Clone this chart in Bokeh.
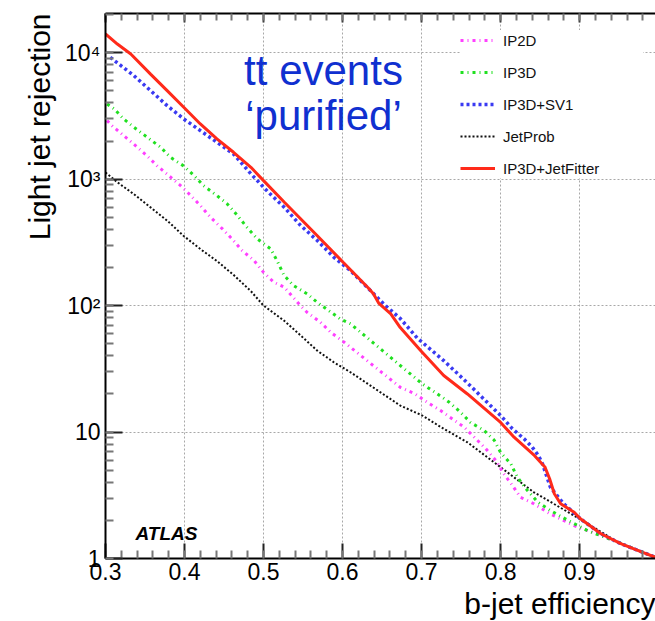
from math import pi
from bokeh.plotting import figure
from bokeh.models import (Label, Legend, LegendItem, LinearAxis, SingleIntervalTicker, Title,
                          CustomJSTickFormatter, LogTicker, PrintfTickFormatter, Range1d)
from bokeh.embed import file_html
from bokeh.resources import INLINE

# ---------------- data ----------------
eff_ip2d = [0.302, 0.308, 0.323, 0.338, 0.351, 0.365, 0.380, 0.395, 0.408, 0.420, 0.433, 0.448,
            0.460, 0.473, 0.488, 0.500, 0.513, 0.526, 0.543, 0.555, 0.572, 0.585, 0.602, 0.610,
            0.673, 0.692, 0.707, 0.724, 0.739, 0.754, 0.769, 0.781, 0.794, 0.804, 0.815, 0.825,
            0.842, 0.863, 0.893, 0.927, 0.948, 0.996]
rej_ip2d = [2900, 2650, 2210, 1840, 1560, 1280, 1066, 889, 741, 618, 499, 404,
            337, 272, 227, 183, 153, 140, 106, 88.5, 73.8, 61.5, 51.3, 46.8,
            22.6, 20.0, 17.2, 14.8, 12.7, 10.9, 8.8, 7.4, 5.96, 4.68, 3.78, 3.05,
            2.71, 2.25, 1.82, 1.52, 1.35, 1.02]

eff_ip3d = [0.302, 0.311, 0.323, 0.336, 0.353, 0.370, 0.382, 0.399, 0.412, 0.424, 0.441, 0.454,
            0.467, 0.479, 0.492, 0.509, 0.517, 0.526, 0.538, 0.555, 0.568, 0.597, 0.610, 0.673,
            0.701, 0.720, 0.735, 0.749, 0.762, 0.779, 0.792, 0.800, 0.813, 0.821, 0.834, 0.847,
            0.863, 0.878, 0.910, 0.948, 0.996]
rej_ip3d = [3930, 3590, 2990, 2570, 2140, 1780, 1490, 1270, 1066, 889, 741, 637,
            515, 416, 337, 281, 227, 173, 144, 124, 106, 78.5, 71.8, 33.6,
            24.0, 20.0, 17.2, 14.4, 11.9, 10.3, 8.6, 6.9, 5.6, 4.4, 3.45, 2.79,
            2.4, 2.12, 1.66, 1.35, 1.02]

eff_sv1 = [0.306, 0.336, 0.357, 0.378, 0.399, 0.420, 0.441, 0.462, 0.484, 0.505, 0.526, 0.547,
           0.568, 0.589, 0.610, 0.631, 0.652, 0.673, 0.695, 0.728, 0.755, 0.800, 0.815, 0.830,
           0.840, 0.848, 0.853, 0.863, 0.880, 0.901, 0.927, 0.952, 0.975, 0.996]
rej_sv1 = [9180, 6580, 5010, 3810, 2990, 2420, 1955, 1580, 1100, 800, 600, 429,
           327, 241, 189, 140, 103, 79, 55, 36.7, 25.5, 13.5, 10.6, 8.8,
           7.6, 6.5, 5.6, 3.66, 2.7, 2.06, 1.57, 1.31, 1.15, 1.02]

eff_jetprob = [0.300, 0.315, 0.336, 0.357, 0.378, 0.399, 0.420, 0.441, 0.462, 0.484, 0.500,
               0.526, 0.547, 0.568, 0.589, 0.610, 0.673, 0.701, 0.728, 0.758, 0.800, 0.842,
               0.900, 0.948, 0.996]
rej_jetprob = [1130, 944, 760, 598, 470, 355, 280, 225, 175, 130, 100,
               76, 58, 44, 35.6, 29.7, 16.2, 13.5, 10.6, 8.3, 5.27, 3.34,
               2.06, 1.35, 1.02]

eff_jf = [0.300, 0.315, 0.332, 0.357, 0.378, 0.399, 0.420, 0.441, 0.462, 0.484, 0.500, 0.526,
          0.568, 0.601, 0.632, 0.639, 0.646, 0.661, 0.673, 0.699, 0.728, 0.758, 0.800, 0.817,
          0.843, 0.856, 0.862, 0.868, 0.876, 0.893, 0.901, 0.927, 0.952, 0.975, 0.996]
rej_jf = [14060, 11700, 9770, 6770, 5010, 3700, 2730, 2080, 1630, 1240, 973, 660,
          357, 219, 139, 124, 104, 86, 67, 44, 28, 20, 11.9, 9.1,
          6.5, 5.3, 4.27, 3.25, 2.71, 2.32, 2.06, 1.57, 1.31, 1.15, 1.02]

series_names = ["IP2D", "IP3D", "IP3D+SV1", "JetProb", "IP3D+JetFitter"]
y_tick_values = [1, 10, 100, 1000, 10000]
y_tick_labels = ["1", "10", "10\u00b2", "10\u00b3", "10\u2074"]

x_title = "b-jet efficiency"
y_title = "Light jet rejection"
note_line1 = "tt events"
note_line2 = "\u2018purified\u2019"
atlas_text = "ATLAS"

# ---------------- figure ----------------
FONT = "Liberation Sans"
p = figure(frame_width=550, frame_height=545, output_backend="svg", toolbar_location=None,
           y_axis_type="log", x_range=Range1d(0.3, 0.996), y_range=Range1d(1, 20400),
           min_border_left=105, min_border_right=0, min_border_top=13, min_border_bottom=0,
           background_fill_color="white", border_fill_color="white")
p.outline_line_color = None

# grids
for g in (p.xgrid, p.ygrid):
    g.grid_line_color = "#a8a8a8"
    g.grid_line_dash = "2 2"
    g.grid_line_width = 1
p.ygrid.minor_grid_line_color = None

# x axis (bottom)
xa = p.xaxis[0]
xa.ticker = SingleIntervalTicker(interval=0.1, num_minor_ticks=5)
xa.formatter = PrintfTickFormatter(format="%.1f")
xa.axis_line_width = 2
xa.axis_line_color = "black"
xa.major_tick_in = 15
xa.major_tick_out = 0
xa.minor_tick_in = 8
xa.minor_tick_out = 0
xa.major_tick_line_width = 2
xa.major_tick_line_color = "#222222"
xa.minor_tick_line_width = 2
xa.minor_tick_line_color = "#777777"
xa.major_label_text_font = FONT
xa.major_label_text_font_size = "23px"
xa.major_label_text_color = "black"
xa.major_label_standoff = 4

# y axis (left)
ya = p.yaxis[0]
ya.ticker = LogTicker(num_minor_ticks=10)
ya.formatter = CustomJSTickFormatter(
    args=dict(vals=y_tick_values, labs=y_tick_labels),
    code="const i = vals.indexOf(Math.round(tick)); return i >= 0 ? labs[i] : '';")
ya.axis_line_width = 2
ya.axis_line_color = "black"
ya.major_tick_in = 17
ya.major_tick_out = 0
ya.minor_tick_in = 8
ya.minor_tick_out = 0
ya.major_tick_line_width = 2
ya.major_tick_line_color = "#222222"
ya.minor_tick_line_width = 2
ya.minor_tick_line_color = "#777777"
ya.major_label_text_font = FONT
ya.major_label_text_font_size = "23px"
ya.major_label_text_color = "black"
ya.major_label_standoff = 5

# top axis: ticks only
ta = LinearAxis(ticker=SingleIntervalTicker(interval=0.1, num_minor_ticks=5),
                formatter=CustomJSTickFormatter(code="return '';"))
ta.axis_line_width = 2
ta.axis_line_color = "black"
ta.major_tick_in = 9
ta.major_tick_out = 0
ta.minor_tick_in = 7
ta.minor_tick_out = 0
ta.major_tick_line_width = 2
ta.major_tick_line_color = "#444444"
ta.minor_tick_line_width = 2
ta.minor_tick_line_color = "#777777"
ta.major_label_text_font_size = "0px"
ta.major_label_standoff = 0
p.add_layout(ta, "above")

# axis titles (ROOT style: aligned to the end of the axis)
p.add_layout(Title(text=x_title, align="right", text_font=FONT, text_font_size="30px",
                   text_font_style="normal", text_color="black", standoff=4), "below")
p.add_layout(Title(text=y_title, align="right", text_font=FONT, text_font_size="30px",
                   text_font_style="normal", text_color="black", standoff=14), "left")

# curves
r_jp = p.line(eff_jetprob, rej_jetprob, line_color="#111111", line_width=2, line_dash="2 2")
r_2d = p.line(eff_ip2d, rej_ip2d, line_color="#ff40ff", line_width=3, line_dash="3 4 1 4")
r_3d = p.line(eff_ip3d, rej_ip3d, line_color="#20e020", line_width=3, line_dash="3 4 1 4")
r_sv = p.line(eff_sv1, rej_sv1, line_color="#3a3af2", line_width=3.5, line_dash="3 3")
r_jf = p.line(eff_jf, rej_jf, line_color="#ff2a1a", line_width=3)

legend = Legend(items=[LegendItem(label=series_names[0], renderers=[r_2d]),
                       LegendItem(label=series_names[1], renderers=[r_3d]),
                       LegendItem(label=series_names[2], renderers=[r_sv]),
                       LegendItem(label=series_names[3], renderers=[r_jp]),
                       LegendItem(label=series_names[4], renderers=[r_jf])],
                location=(355, 380))
legend.border_line_color = None
legend.background_fill_color = "white"
legend.background_fill_alpha = 1.0
legend.label_text_font = FONT
legend.label_text_font_size = "15px"
legend.label_text_color = "#111111"
legend.glyph_width = 35
legend.glyph_height = 20
legend.label_height = 20
legend.label_width = 140
legend.label_standoff = 8
legend.spacing = 12
legend.padding = 7
legend.margin = 0
p.add_layout(legend, "center")

# texts inside the frame
p.add_layout(Label(x=218, y=488, x_units="screen", y_units="screen", text=note_line1,
                   text_align="center", text_baseline="alphabetic",
                   text_font=FONT, text_font_size="42px", text_color="#1030d0"))
p.add_layout(Label(x=218, y=443, x_units="screen", y_units="screen", text=note_line2,
                   text_align="center", text_baseline="alphabetic",
                   text_font=FONT, text_font_size="42px", text_color="#1030d0"))
p.add_layout(Label(x=30, y=25, x_units="screen", y_units="screen", text=atlas_text,
                   text_align="left", text_baseline="alphabetic",
                   text_font=FONT, text_font_size="19px", text_font_style="bold italic",
                   text_color="black"))

open("out.html", "w").write(file_html(p, INLINE))
